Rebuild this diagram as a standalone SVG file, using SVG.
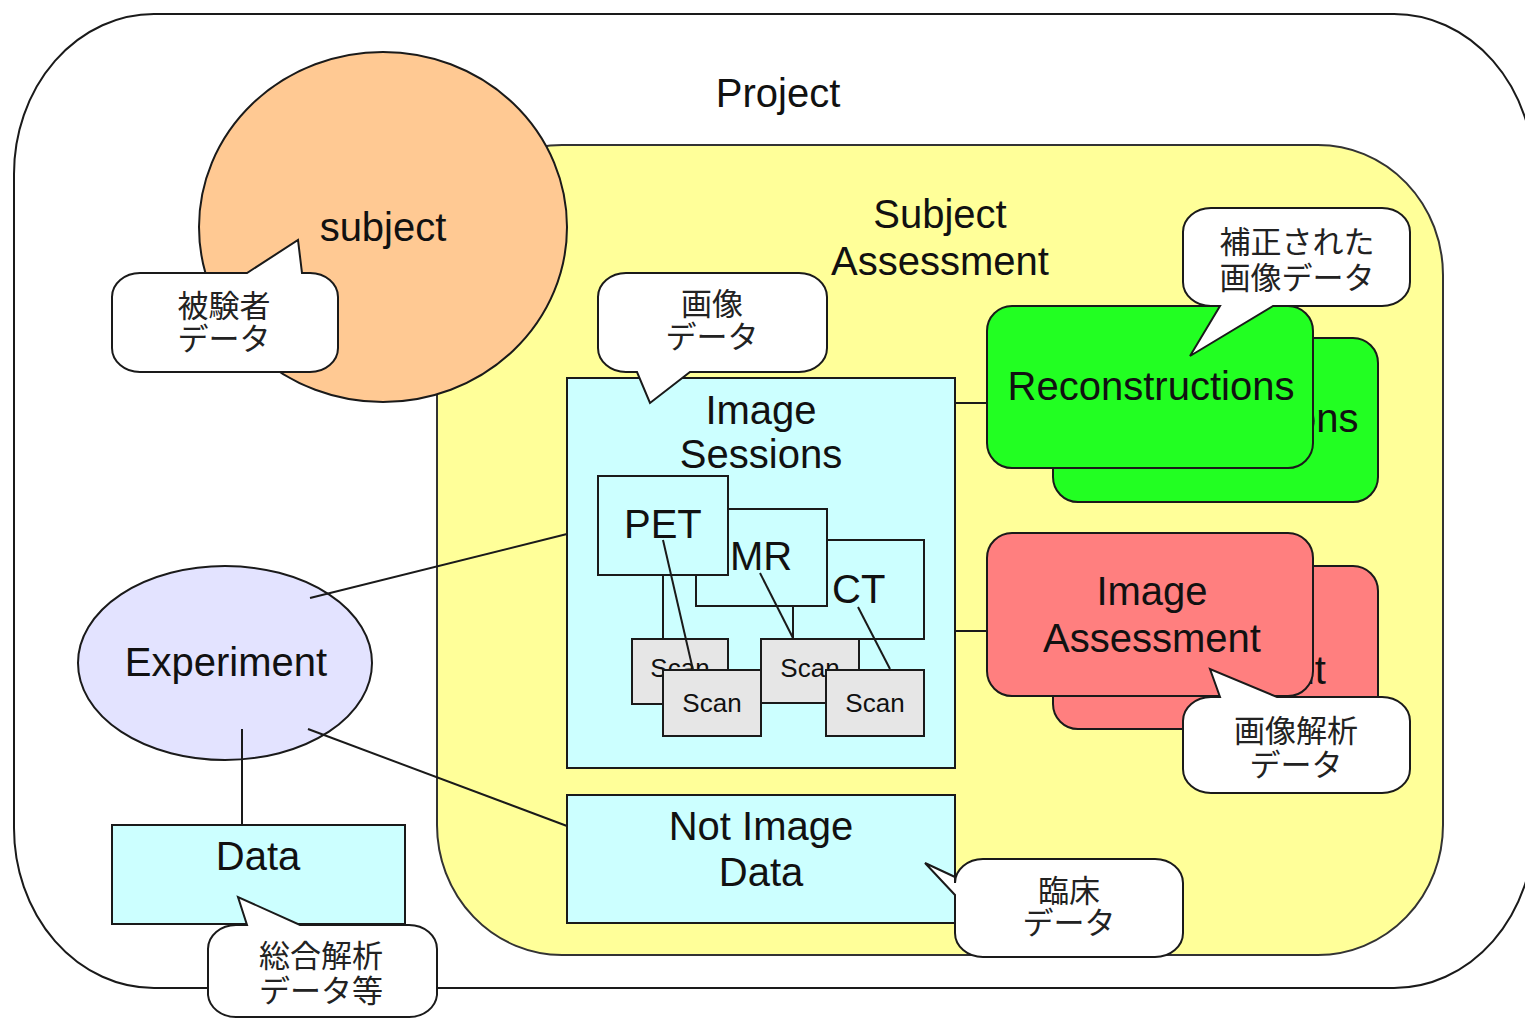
<svg xmlns="http://www.w3.org/2000/svg" width="1525" height="1019" viewBox="0 0 1525 1019">
  <style>
    .ln { stroke: #1a1a1a; stroke-width: 2; fill: none; }
    .box { stroke: #1a1a1a; stroke-width: 2; }
    .lbl { font-family: "Liberation Sans", Arial, sans-serif; font-size: 40px; fill: #111; text-anchor: middle; }
    .scan { font-family: "Liberation Sans", Arial, sans-serif; font-size: 26px; fill: #111; text-anchor: middle; }
    .jp { font-family: "Liberation Sans", "Noto Sans CJK JP", sans-serif; font-size: 31px; fill: #222; text-anchor: middle; }
    .cyan { fill: #CCFFFF; }
    .gray { fill: #E6E6E6; }
    .green { fill: #22FF22; }
    .salmon { fill: #FF7F7F; }
    .bubble { fill: #FFFFFF; stroke: #1a1a1a; stroke-width: 2; }
  </style>

  <!-- Project container -->
  <g id="project">
    <rect x="14" y="14" width="1520" height="974" rx="140" ry="160" fill="#FFFFFF" stroke="#1a1a1a" stroke-width="2"/>
    <text class="lbl" x="778" y="107">Project</text>
  </g>

  <!-- Subject Assessment container -->
  <g id="subject-assessment">
    <rect x="437" y="145" width="1006" height="810" rx="125" ry="130" fill="#FFFF99" stroke="#333" stroke-width="2"/>
    <text class="lbl" x="940" y="228">Subject</text>
    <text class="lbl" x="940" y="275">Assessment</text>
  </g>

  <!-- Subject -->
  <g id="subject">
    <ellipse cx="383" cy="227" rx="184" ry="175" fill="#FFC993" stroke="#1a1a1a" stroke-width="2"/>
    <text class="lbl" x="383" y="241">subject</text>
  </g>

  <!-- Image Sessions -->
  <g id="image-sessions">
    <rect class="box cyan" x="567" y="378" width="388" height="390"/>
    <text class="lbl" x="761" y="424">Image</text>
    <text class="lbl" x="761" y="468">Sessions</text>
  </g>

  <g id="ct">
    <rect class="box cyan" x="793" y="540" width="131" height="99"/>
    <text class="lbl" x="832" y="603" style="text-anchor:start">CT</text>
  </g>
  <g id="mr">
    <rect class="box cyan" x="696" y="509" width="131" height="97"/>
    <text class="lbl" x="730" y="570" style="text-anchor:start">MR</text>
  </g>
  <g id="pet">
    <rect class="box cyan" x="598" y="476" width="130" height="99"/>
    <text class="lbl" x="624" y="538" style="text-anchor:start">PET</text>
  </g>

  <g id="scan-1">
    <rect class="box gray" x="632" y="639" width="96" height="65"/>
    <text class="scan" x="680" y="677">Scan</text>
  </g>
  <g id="scan-2">
    <rect class="box gray" x="663" y="670" width="98" height="66"/>
    <text class="scan" x="712" y="712">Scan</text>
  </g>
  <g id="scan-3">
    <rect class="box gray" x="761" y="639" width="98" height="64"/>
    <text class="scan" x="810" y="677">Scan</text>
  </g>
  <g id="scan-4">
    <rect class="box gray" x="826" y="670" width="98" height="66"/>
    <text class="scan" x="875" y="712">Scan</text>
  </g>

  <!-- Not Image Data -->
  <g id="not-image-data">
    <rect class="box cyan" x="567" y="795" width="388" height="128"/>
    <text class="lbl" x="761" y="840">Not Image</text>
    <text class="lbl" x="761" y="886">Data</text>
  </g>

  <!-- Reconstructions (stacked) -->
  <g id="reconstructions">
    <rect class="box green" x="1053" y="338" width="325" height="164" rx="25" ry="25"/>
    <text class="lbl" x="1215" y="432">Reconstructions</text>
    <rect class="box green" x="987" y="306" width="326" height="162" rx="25" ry="25"/>
    <text class="lbl" x="1151" y="400">Reconstructions</text>
  </g>

  <!-- Image Assessment (stacked) -->
  <g id="image-assessment">
    <rect class="box salmon" x="1053" y="566" width="325" height="163" rx="25" ry="25"/>
    <text class="lbl" x="1217" y="638">Image</text>
    <text class="lbl" x="1217" y="684">Assessment</text>
    <rect class="box salmon" x="987" y="533" width="326" height="163" rx="25" ry="25"/>
    <text class="lbl" x="1152" y="605">Image</text>
    <text class="lbl" x="1152" y="652">Assessment</text>
  </g>

  <!-- Experiment -->
  <g id="experiment">
    <ellipse cx="225" cy="663" rx="147" ry="97" fill="#E3E3FF" stroke="#1a1a1a" stroke-width="2"/>
    <text class="lbl" x="226" y="676">Experiment</text>
  </g>

  <!-- Data -->
  <g id="data">
    <rect class="box cyan" x="112" y="825" width="293" height="99"/>
    <text class="lbl" x="258" y="870">Data</text>
  </g>

  <!-- Connectors -->
  <g id="connectors">
    <line class="ln" x1="310" y1="598" x2="567" y2="534"/>
    <line class="ln" x1="308" y1="729" x2="567" y2="826"/>
    <line class="ln" x1="242" y1="729" x2="242" y2="825"/>
    <line class="ln" x1="955" y1="403" x2="987" y2="403"/>
    <line class="ln" x1="955" y1="631" x2="987" y2="631"/>
    <line class="ln" x1="663" y1="575" x2="663" y2="639"/>
    <line class="ln" x1="663" y1="540" x2="693" y2="670"/>
    <line class="ln" x1="760" y1="573" x2="793" y2="638"/>
    <line class="ln" x1="858" y1="607" x2="890" y2="669"/>
  </g>

  <!-- Speech-bubble notes -->
  <g id="note-subject">
    <path class="bubble" d="M140,273 L247,273 L298,240 L302,273 L310,273 A28,24 0 0 1 338,297 L338,348 A28,24 0 0 1 310,372 L140,372 A28,24 0 0 1 112,348 L112,297 A28,24 0 0 1 140,273 Z"/>
    <text class="jp" x="224" y="317">被験者</text>
    <text class="jp" x="224" y="350">データ</text>
  </g>

  <g id="note-image">
    <path class="bubble" d="M626,273 L799,273 A28,24 0 0 1 827,297 L827,348 A28,24 0 0 1 799,372 L690,372 L650,403 L637,372 L626,372 A28,24 0 0 1 598,348 L598,297 A28,24 0 0 1 626,273 Z"/>
    <text class="jp" x="712" y="315">画像</text>
    <text class="jp" x="712" y="348">データ</text>
  </g>

  <g id="note-reconstructed">
    <path class="bubble" d="M1211,208 L1382,208 A28,24 0 0 1 1410,232 L1410,282 A28,24 0 0 1 1382,306 L1273,306 L1190,356 L1220,306 L1211,306 A28,24 0 0 1 1183,282 L1183,232 A28,24 0 0 1 1211,208 Z"/>
    <text class="jp" x="1297" y="253">補正された</text>
    <text class="jp" x="1297" y="289">画像データ</text>
  </g>

  <g id="note-analysis">
    <path class="bubble" d="M1211,697 L1220,697 L1210,669 L1277,697 L1382,697 A28,24 0 0 1 1410,721 L1410,769 A28,24 0 0 1 1382,793 L1211,793 A28,24 0 0 1 1183,769 L1183,721 A28,24 0 0 1 1211,697 Z"/>
    <text class="jp" x="1296" y="742">画像解析</text>
    <text class="jp" x="1296" y="776">データ</text>
  </g>

  <g id="note-clinical">
    <path class="bubble" d="M983,859 L1155,859 A28,24 0 0 1 1183,883 L1183,933 A28,24 0 0 1 1155,957 L983,957 A28,24 0 0 1 955,933 L955,895 L925,863 L955,877 L955,883 A28,24 0 0 1 983,859 Z"/>
    <text class="jp" x="1069" y="902">臨床</text>
    <text class="jp" x="1069" y="934">データ</text>
  </g>

  <g id="note-summary">
    <path class="bubble" d="M236,925 L247,925 L238,897 L300,925 L409,925 A28,24 0 0 1 437,949 L437,995 A28,24 0 0 1 409,1017 L236,1017 A28,24 0 0 1 208,995 L208,949 A28,24 0 0 1 236,925 Z"/>
    <text class="jp" x="321" y="967">総合解析</text>
    <text class="jp" x="321" y="1002">データ等</text>
  </g>
</svg>
